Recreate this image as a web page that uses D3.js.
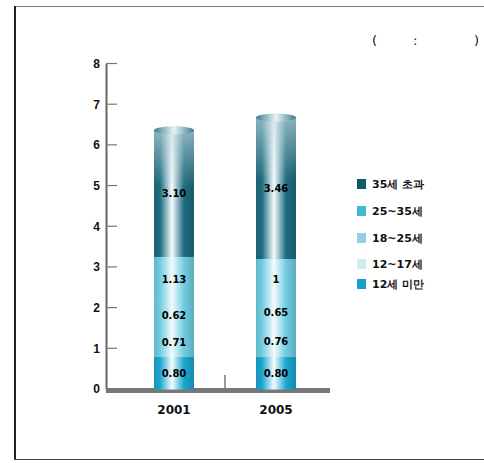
<!DOCTYPE html>
<html><head><meta charset="utf-8">
<script src="https://cdn.jsdelivr.net/npm/d3@7"></script>
<style>body{margin:0;background:#fff}svg{display:block}</style>
</head><body>
<script>
const categories = ["2001", "2005"];
const seriesNames = ["12세 미만", "12~17세", "18~25세", "25~35세", "35세 초과"];
const values2001 = [0.80, 0.71, 0.62, 1.13, 3.10];
const values2005 = [0.80, 0.76, 0.65, 1, 3.46];
const yTicks = [0, 1, 2, 3, 4, 5, 6, 7, 8];

const legendColors = ["#1a9fcb", "#d2ecf3", "#8fd0e2", "#3fbad0", "#0e5a6c"];
const barEdge = ["#1aa6cf", "#6fcce0", "#6fcce0", "#6fcce0", "#1d6c80"];

const W = 484, H = 463;
const svg = d3.select("body").append("svg").attr("width", W).attr("height", H)
  .style("font-family", "'DejaVu Sans', sans-serif");
const defs = svg.append("defs");

// frame
svg.append("line").attr("x1", 14).attr("x2", 484).attr("y1", 6.5).attr("y2", 6.5).attr("stroke", "#777").attr("stroke-width", 1);
svg.append("line").attr("x1", 15).attr("x2", 15).attr("y1", 6).attr("y2", 460).attr("stroke", "#222").attr("stroke-width", 2);
svg.append("line").attr("x1", 14).attr("x2", 484).attr("y1", 459.5).attr("y2", 459.5).attr("stroke", "#444").attr("stroke-width", 1);

// unit note
const note = svg.append("g").attr("font-size", 13).attr("fill", "#111");
note.append("text").attr("x", 372).attr("y", 45).text("(");
note.append("text").attr("x", 413).attr("y", 45).text(":");
note.append("text").attr("x", 474).attr("y", 45).text(")");

const y = d3.scaleLinear().domain([0, 8]).range([389, 63.5]);
const x = d3.scaleBand().domain(categories).range([103, 347]).paddingInner(0.608).paddingOuter(0.5);

// gradients per segment
legendColors.forEach((c, i) => {
  const g = defs.append("linearGradient").attr("id", "grad" + i).attr("x1", 0).attr("x2", 1).attr("y1", 0).attr("y2", 0);
  g.append("stop").attr("offset", "0%").attr("stop-color", d3.color(barEdge[i]).darker(0.3));
  g.append("stop").attr("offset", "15%").attr("stop-color", barEdge[i]);
  g.append("stop").attr("offset", "45%").attr("stop-color", "#f4fbfd");
  g.append("stop").attr("offset", "75%").attr("stop-color", barEdge[i]);
  g.append("stop").attr("offset", "100%").attr("stop-color", d3.color(barEdge[i]).darker(0.5));
});
const vg = defs.append("linearGradient").attr("id", "fadeTop").attr("x1", 0).attr("x2", 0).attr("y1", 0).attr("y2", 1);
vg.append("stop").attr("offset", "0%").attr("stop-color", "#c8dde2").attr("stop-opacity", 0.65);
vg.append("stop").attr("offset", "100%").attr("stop-color", "#c8dde2").attr("stop-opacity", 0);
const capG = defs.append("linearGradient").attr("id", "capG").attr("x1", 0).attr("x2", 1);
capG.append("stop").attr("offset", "0%").attr("stop-color", "#3b7e8e");
capG.append("stop").attr("offset", "50%").attr("stop-color", "#e8f2f4");
capG.append("stop").attr("offset", "100%").attr("stop-color", "#3b7e8e");

// y axis
const yAxis = d3.axisLeft(y).tickValues(yTicks).tickSize(0).tickPadding(6).tickFormat(d3.format("d"));
const ya = svg.append("g").attr("transform", "translate(106,0)").call(yAxis);
ya.select(".domain").attr("stroke", "#666").attr("stroke-width", 2);
ya.selectAll("text").attr("font-size", 12).attr("font-weight", "bold").attr("fill", "#111");
svg.append("g").selectAll("line").data(yTicks.slice(1)).join("line")
  .attr("x1", 106).attr("x2", 117).attr("y1", d => y(d)).attr("y2", d => y(d))
  .attr("stroke", "#777").attr("stroke-width", 1.2);

// x axis band
svg.append("rect").attr("x", 106).attr("y", 388).attr("width", 224).attr("height", 5).attr("fill", "#777");
svg.append("line").attr("x1", 225).attr("x2", 225).attr("y1", 375).attr("y2", 388).attr("stroke", "#777").attr("stroke-width", 1.5);
svg.append("g").selectAll("text").data(categories).join("text")
  .attr("x", d => x(d) + x.bandwidth() / 2).attr("y", 414).attr("text-anchor", "middle")
  .attr("font-size", 12).attr("font-weight", "bold").attr("fill", "#111").text(d => d);

// bars
const data = [values2001, values2005];
data.forEach((vals, bi) => {
  const cat = categories[bi];
  const bx = x(cat), bw = x.bandwidth();
  let cum = 0;
  const segs = vals.map((v, i) => { const s = { i, y0: cum, y1: cum + v, v }; cum += v; return s; });
  const g = svg.append("g");
  g.selectAll("rect.seg").data(segs).join("rect").attr("class", "seg")
    .attr("x", bx).attr("width", bw)
    .attr("y", d => y(d.y1)).attr("height", d => y(d.y0) - y(d.y1) + 0.6)
    .attr("fill", d => "url(#grad" + d.i + ")");
  const top = segs[segs.length - 1];
  g.append("rect").attr("x", bx).attr("width", bw).attr("y", y(top.y1))
    .attr("height", (y(top.y0) - y(top.y1)) * 0.45).attr("fill", "url(#fadeTop)");
  g.append("ellipse").attr("cx", bx + bw / 2).attr("cy", y(cum)).attr("rx", bw / 2).attr("ry", 4)
    .attr("fill", "url(#capG)");
  g.selectAll("text").data(segs).join("text")
    .attr("x", bx + bw / 2).attr("y", d => y((d.y0 + d.y1) / 2) + 4)
    .attr("text-anchor", "middle").attr("font-size", 10).attr("font-weight", "bold").attr("fill", "#000")
    .text(d => d3.format(".2~f")(d.v).replace(/^(\d\.\d)$/, "$10"));
});

// legend
const legendOrder = [4, 3, 2, 1, 0];
const legendY = [184, 211, 238, 264, 284];
const lg = svg.append("g");
legendOrder.forEach((si, k) => {
  lg.append("rect").attr("x", 357).attr("y", legendY[k] - 5).attr("width", 9).attr("height", 10).attr("fill", legendColors[si]);
  lg.append("text").attr("x", 372).attr("y", legendY[k] + 4).attr("font-size", 11).attr("font-weight", "bold")
    .attr("fill", "#111").text(seriesNames[si]);
});
</script>
</body></html>
